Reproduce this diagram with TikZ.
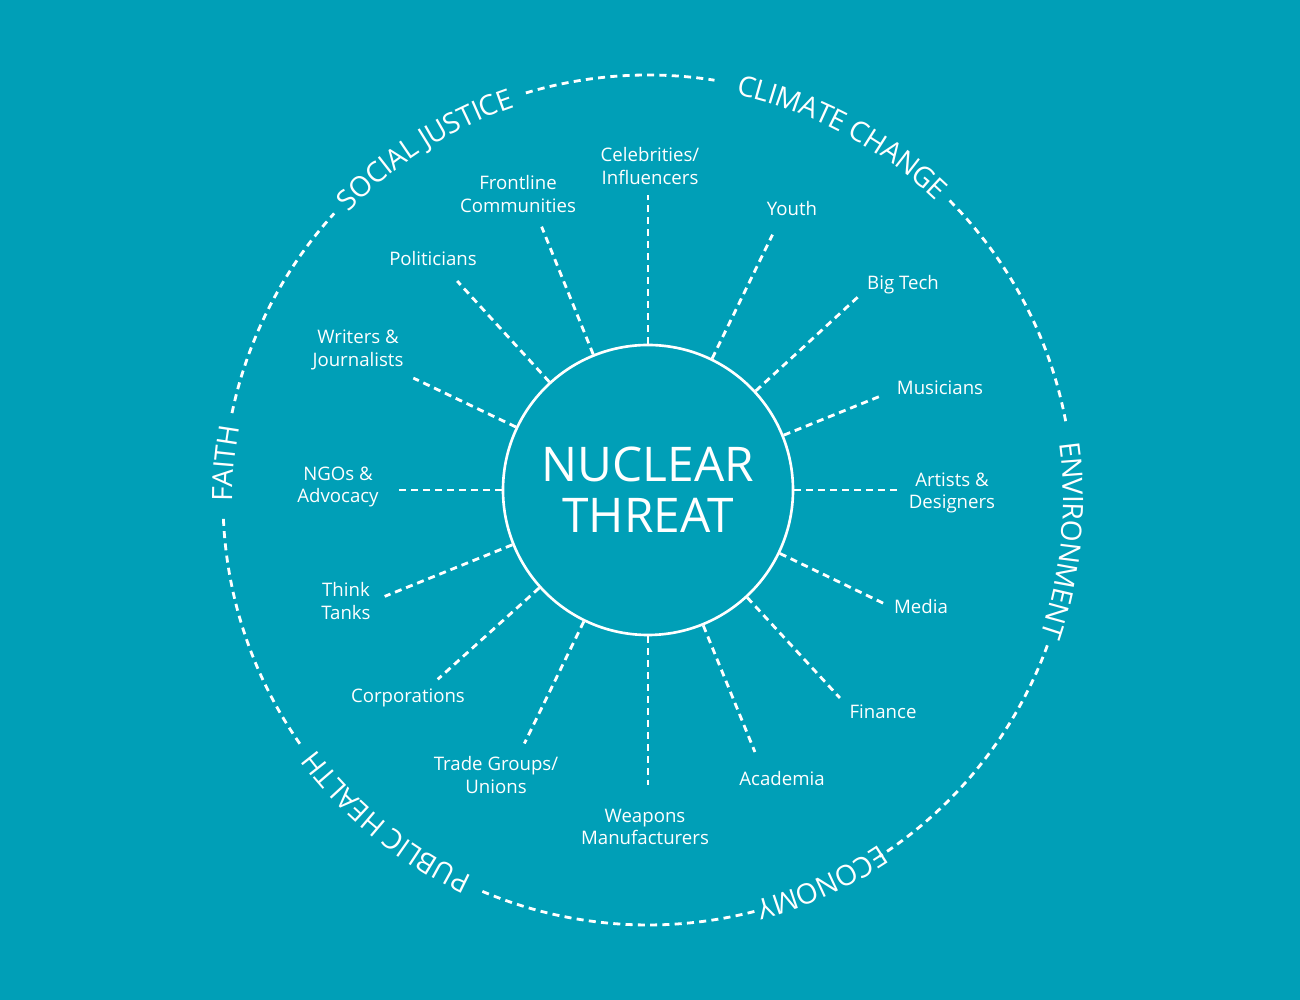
\documentclass[tikz,border=0pt]{standalone}
\usepackage{fontspec}
\setmainfont{Open Sans}
\usepackage{tikz}
\usetikzlibrary{decorations.text}

\definecolor{teal}{HTML}{009FB7}

\tikzset{
  hub/.style={circle, draw=white, line width=0.75pt, minimum size=2.9cm, inner sep=0pt,
    text=white, align=center, font=\fontsize{13.6}{14.6}\selectfont},
  item/.style={text=white, align=center, inner sep=1pt, font=\fontsize{5.3}{6.4}\selectfont},
  spoke/.style={white, line width=0.8pt, dash pattern=on 2pt off 1.4pt},
  ring/.style={white, line width=0.8pt, dash pattern=on 2pt off 1.5pt},
  ringtext/.style={decorate, decoration={text along path, text align=center,
    raise=-2.8pt, text color=white, text={|\fontsize{8}{9}\selectfont|#1}}}
}

\begin{document}
\begin{tikzpicture}
  \fill[teal] (-6.48,-5.10) rectangle (6.52,4.90);
  \useasboundingbox (-6.48,-5.10) rectangle (6.52,4.90);

  % centre
  \node[hub] (hub) at (0,0) {NUCLEAR\\THREAT};

  % spokes and groups
  \coordinate (cel) at (90:2.95);
  \node[item] (celL) at (0.02,3.24) {Celebrities/\\Influencers};
  \draw[spoke] (hub) -- (cel);
  \coordinate (you) at (64:2.84);
  \node[item] (youL) at (1.44,2.81) {Youth};
  \draw[spoke] (hub) -- (you);
  \coordinate (big) at (42.6:2.85);
  \node[item] (bigL) at (2.55,2.05) {Big Tech};
  \draw[spoke] (hub) -- (big);
  \coordinate (mus) at (22:2.53);
  \node[item] (musL) at (2.92,1.02) {Musicians};
  \draw[spoke] (hub) -- (mus);
  \coordinate (art) at (0:2.52);
  \node[item] (artL) at (3.04,-0.03) {Artists \&\\Designers};
  \draw[spoke] (hub) -- (art);
  \coordinate (med) at (-25.7:2.61);
  \node[item] (medL) at (2.73,-1.17) {Media};
  \draw[spoke] (hub) -- (med);
  \coordinate (fin) at (-47.3:2.83);
  \node[item] (finL) at (2.35,-2.22) {Finance};
  \draw[spoke] (hub) -- (fin);
  \coordinate (aca) at (-67.8:2.83);
  \node[item] (acaL) at (1.34,-2.89) {Academia};
  \draw[spoke] (hub) -- (aca);
  \coordinate (wea) at (-90:2.95);
  \node[item] (weaL) at (-0.03,-3.37) {Weapons\\Manufacturers};
  \draw[spoke] (hub) -- (wea);
  \coordinate (tra) at (-116:2.82);
  \node[item] (traL) at (-1.52,-2.85) {Trade Groups/\\Unions};
  \draw[spoke] (hub) -- (tra);
  \coordinate (cor) at (-138:2.83);
  \node[item] (corL) at (-2.40,-2.08) {Corporations};
  \draw[spoke] (hub) -- (cor);
  \coordinate (thi) at (-158:2.84);
  \node[item] (thiL) at (-3.02,-1.11) {Think\\Tanks};
  \draw[spoke] (hub) -- (thi);
  \coordinate (ngo) at (180:2.50);
  \node[item] (ngoL) at (-3.10,0.03) {NGOs \&\\Advocacy};
  \draw[spoke] (hub) -- (ngo);
  \coordinate (wri) at (154.5:2.60);
  \node[item] (wriL) at (-2.90,1.40) {Writers \&\\Journalists};
  \draw[spoke] (hub) -- (wri);
  \coordinate (pol) at (132.4:2.83);
  \node[item] (polL) at (-2.15,2.31) {Politicians};
  \draw[spoke] (hub) -- (pol);
  \coordinate (fro) at (112:2.84);
  \node[item] (froL) at (-1.30,2.96) {Frontline\\Communities};
  \draw[spoke] (hub) -- (fro);

  % outer ring
  \coordinate (ringc) at (0,-0.10);
  \draw[ring] (ringc) ++(168.2:4.25) arc[start angle=168.2, end angle=137.6, radius=4.25];
  \draw[ring] (ringc) ++(106.7:4.25) arc[start angle=106.7, end angle=81, radius=4.25];
  \draw[ring] (ringc) ++(44.8:4.25) arc[start angle=44.8, end angle=10, radius=4.25];
  \draw[ring] (ringc) ++(-20:4.25) arc[start angle=-20, end angle=-57, radius=4.25];
  \draw[ring] (ringc) ++(-75.5:4.25) arc[start angle=-75.5, end angle=-113.3, radius=4.25];
  \draw[ring] (ringc) ++(-145:4.25) arc[start angle=-145, end angle=-178, radius=4.25];

  \path[ringtext={SOCIAL JUSTICE}] (ringc) ++(152.4:4.25) arc[start angle=152.4, end angle=92.4, radius=4.25];
  \path[ringtext={CLIMATE CHANGE}] (ringc) ++(91.9:4.25) arc[start angle=91.9, end angle=31.9, radius=4.25];
  \path[ringtext={ENVIRONMENT}] (ringc) ++(24.4:4.25) arc[start angle=24.4, end angle=-35.6, radius=4.25];
  \path[ringtext={ECONOMY}] (ringc) ++(-35.6:4.25) arc[start angle=-35.6, end angle=-95.6, radius=4.25];
  \path[ringtext={PUBLIC HEALTH}] (ringc) ++(-99.1:4.25) arc[start angle=-99.1, end angle=-159.1, radius=4.25];
  \path[ringtext={FAITH}] (ringc) ++(205:4.25) arc[start angle=205, end angle=145, radius=4.25];
\end{tikzpicture}
\end{document}
